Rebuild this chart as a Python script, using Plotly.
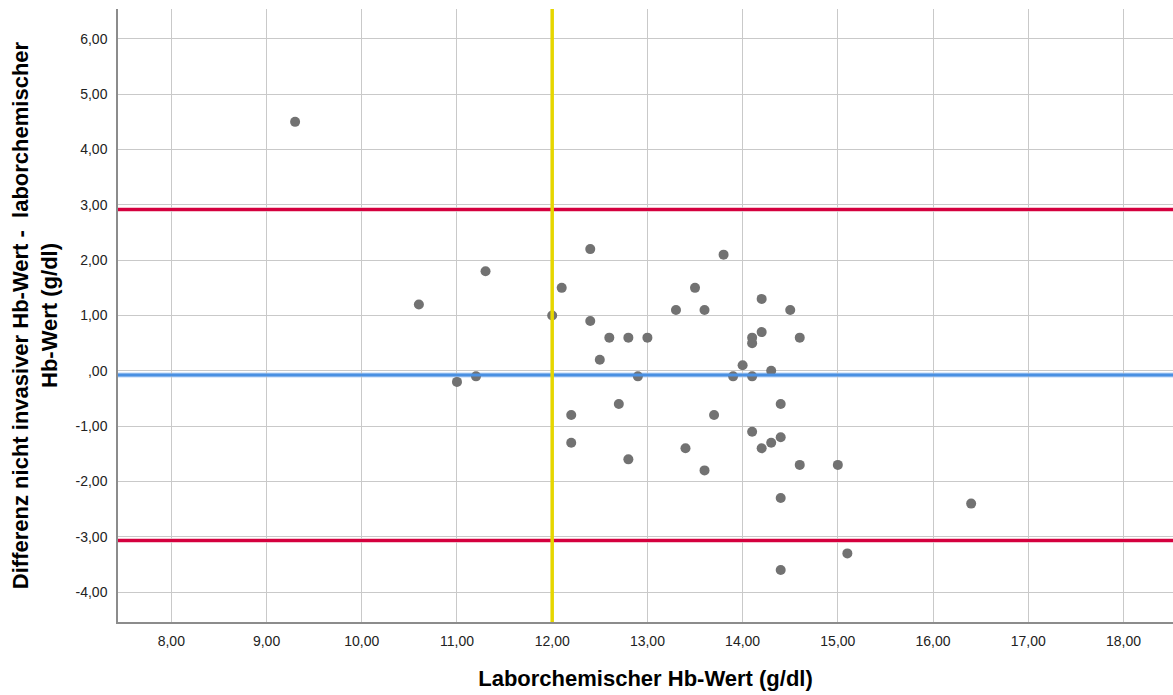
import plotly.graph_objects as go

# Data: laboratory Hb (x) and difference non-invasive - laboratory (y)
lab_hb = [9.3, 10.6, 11.0, 11.2, 11.3, 12.0, 12.1, 12.4, 12.4, 12.5, 12.6, 12.8, 13.0,
          12.9, 12.2, 12.2, 12.7, 12.8, 13.3, 13.5, 13.6, 13.8, 13.4, 13.6, 13.7, 13.9,
          14.0, 14.1, 14.1, 14.1, 14.2, 14.2, 14.3, 14.5, 14.6, 14.1, 14.2, 14.3, 14.4,
          14.4, 14.6, 14.4, 15.0, 16.4, 15.1, 14.4]
diff_hb = [4.5, 1.2, -0.2, -0.1, 1.8, 1.0, 1.5, 2.2, 0.9, 0.2, 0.6, 0.6, 0.6,
           -0.1, -0.8, -1.3, -0.6, -1.6, 1.1, 1.5, 1.1, 2.1, -1.4, -1.8, -0.8, -0.1,
           0.1, 0.6, 0.5, -0.1, 1.3, 0.7, 0.0, 1.1, 0.6, -1.1, -1.4, -1.3, -1.2,
           -0.6, -1.7, -2.3, -1.7, -2.4, -3.3, -3.6]

mean_diff = -0.075
upper_loa = 2.915
lower_loa = -3.065
anemia_cutoff = 12.0

x_ticks = [8, 9, 10, 11, 12, 13, 14, 15, 16, 17, 18]
y_ticks = [-4, -3, -2, -1, 0, 1, 2, 3, 4, 5, 6]


def de_fmt(v):
    s = f"{v:.2f}".replace(".", ",")
    if s.startswith("0,"):
        s = s[1:]
    return s


x_text = [de_fmt(v) for v in x_ticks]
y_text = [de_fmt(v) for v in y_ticks]

fig = go.Figure()

# halo lines for soft edges
fig.add_hline(y=upper_loa, line=dict(color="rgba(230,80,120,0.35)", width=5), layer="below")
fig.add_hline(y=lower_loa, line=dict(color="rgba(230,80,120,0.35)", width=5), layer="below")
fig.add_hline(y=mean_diff, line=dict(color="rgba(100,160,235,0.45)", width=5), layer="below")

fig.add_hline(y=upper_loa, line=dict(color="#d4003e", width=3))
fig.add_hline(y=lower_loa, line=dict(color="#d4003e", width=3))
fig.add_hline(y=mean_diff, line=dict(color="#4a90e2", width=3))
fig.add_vline(x=anemia_cutoff, line=dict(color="#e6d600", width=3.5))

fig.add_trace(go.Scatter(
    x=lab_hb, y=diff_hb, mode="markers",
    marker=dict(color="#727272", size=10, line=dict(width=0)),
    showlegend=False, hoverinfo="x+y",
))

axis_font = dict(family="Liberation Sans, Arial, sans-serif", size=14, color="#222222")
title_font = dict(family="Liberation Sans, Arial, sans-serif", size=22, color="#000000")

fig.update_layout(
    width=1173, height=695,
    margin=dict(l=118, r=0, t=9, b=73),
    paper_bgcolor="white", plot_bgcolor="white",
    xaxis=dict(
        range=[7.44, 18.52], tickvals=x_ticks, ticktext=x_text,
        showgrid=True, gridcolor="#c9c9c9", gridwidth=1.2,
        showline=True, linecolor="#8c8c8c", linewidth=1.5, mirror=False,
        ticks="", tickfont=axis_font, ticklabelstandoff=5, zeroline=False,
        title=dict(text="<b>Laborchemischer Hb-Wert (g/dl)</b>", font=title_font, standoff=23),
    ),
    yaxis=dict(
        range=[-4.54, 6.54], tickvals=y_ticks, ticktext=y_text,
        showgrid=True, gridcolor="#c9c9c9", gridwidth=1.2,
        showline=True, linecolor="#8c8c8c", linewidth=1.5, mirror=False,
        ticks="", tickfont=axis_font, ticklabelstandoff=6, zeroline=False,
        title=dict(text="<b>Differenz nicht invasiver Hb-Wert -  laborchemischer<br>Hb-Wert (g/dl)</b>",
                   font=title_font, standoff=12),
    ),
)

fig.write_html("out.html")
